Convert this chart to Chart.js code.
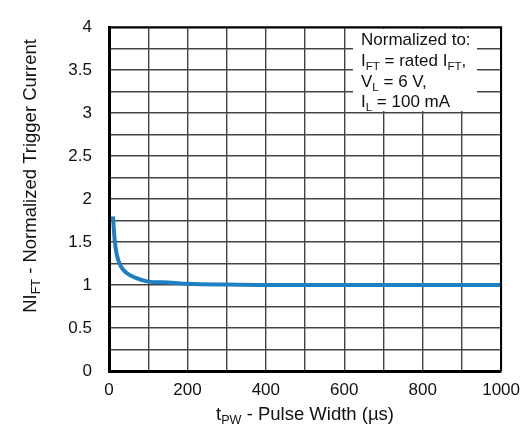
<!DOCTYPE html>
<html lang="en">
<head>
    <meta charset="UTF-8">
    <title>Normalized Trigger Current vs Pulse Width</title>
    <script src="https://cdn.jsdelivr.net/npm/chart.js"></script>
    <style>
        body { margin: 0; background: #fff; }
        #wrap { width: 529px; height: 437px; }
    </style>
</head>
<body>
    <div id="wrap"><canvas id="myChart"></canvas></div>
    <script>
        // data
        const pulseWidth = [10, 15, 20, 30, 45, 70, 100, 150, 200, 300, 400, 600, 800, 1000];
        const trigCurrent = [1.8, 1.5, 1.35, 1.22, 1.14, 1.08, 1.04, 1.03, 1.015, 1.005, 1.0, 1.0, 1.0, 1.0];
        const yTicks = [0, 0.5, 1, 1.5, 2, 2.5, 3, 3.5, 4];
        const xTicks = [0, 200, 400, 600, 800, 1000];

        const FONT = '"Liberation Sans", Arial, sans-serif';

        // draw text made of [text, isSub] parts
        function richWidth(ctx, parts, size) {
            let w = 0;
            parts.forEach(p => {
                ctx.font = (p[1] ? size * 0.68 : size) + 'px ' + FONT;
                w += ctx.measureText(p[0]).width;
            });
            return w;
        }
        function drawRich(ctx, parts, x, y, size) {
            parts.forEach(p => {
                ctx.font = (p[1] ? size * 0.68 : size) + 'px ' + FONT;
                ctx.fillText(p[0], x, p[1] ? y + size * 0.22 : y);
                x += ctx.measureText(p[0]).width;
            });
        }

        const extras = {
            id: 'extras',
            afterDraw(chart) {
                const ctx = chart.ctx;
                const a = chart.chartArea;
                ctx.save();
                // frame top/right
                ctx.strokeStyle = '#000';
                ctx.lineWidth = 2;
                ctx.beginPath();
                ctx.moveTo(a.left, a.top);
                ctx.lineTo(a.right, a.top);
                ctx.lineTo(a.right, a.bottom);
                ctx.stroke();

                // note box
                ctx.fillStyle = '#fff';
                ctx.fillRect(353, 29, 124, 82);
                ctx.fillStyle = '#111';
                ctx.textBaseline = 'alphabetic';
                ctx.textAlign = 'left';
                const s = 17;
                drawRich(ctx, [['Normalized to:', 0]], 361, 45, s);
                drawRich(ctx, [['I', 0], ['FT', 1], [' = rated I', 0], ['FT', 1], [',', 0]], 361, 66, s);
                drawRich(ctx, [['V', 0], ['L', 1], [' = 6 V,', 0]], 361, 87, s);
                drawRich(ctx, [['I', 0], ['L', 1], [' = 100 mA', 0]], 361, 107, s);

                // axis titles
                const ts = 18.5;
                const xt = [['t', 0], ['PW', 1], [' - Pulse Width (\u00b5s)', 0]];
                const xw = richWidth(ctx, xt, ts);
                drawRich(ctx, xt, (a.left + a.right) / 2 - xw / 2, 420, ts);

                const yt = [['NI', 0], ['FT', 1], [' - Normalized Trigger Current', 0]];
                const yw = richWidth(ctx, yt, ts);
                ctx.translate(36, 176);
                ctx.rotate(-Math.PI / 2);
                drawRich(ctx, yt, -yw / 2, 0, ts);
                ctx.restore();
            }
        };

        const ctx = document.getElementById('myChart').getContext('2d');
        let myChart = new Chart(ctx, {
            type: 'scatter',
            data: {
                datasets: [{
                    data: pulseWidth.map((x, i) => ({ x: x, y: trigCurrent[i] })),
                    showLine: true,
                    borderColor: '#1f7fc4',
                    borderWidth: 4,
                    pointRadius: 0,
                    cubicInterpolationMode: 'monotone'
                }]
            },
            options: {
                responsive: true,
                maintainAspectRatio: false,
                animation: false,
                layout: { padding: { top: 15, right: 26, left: 0, bottom: 0 } },
                plugins: { legend: { display: false }, tooltip: { enabled: false } },
                scales: {
                    x: {
                        type: 'linear',
                        min: 0, max: 1000,
                        afterFit: s => { s.height = 66; },
                        grid: { color: '#444', lineWidth: 1.4, drawTicks: false },
                        border: { color: '#000', width: 3 },
                        ticks: {
                            stepSize: 100,
                            autoSkip: false,
                            maxRotation: 0,
                            padding: 9,
                            color: '#111',
                            font: { family: FONT, size: 17 },
                            callback: v => xTicks.includes(v) ? String(v) : ''
                        }
                    },
                    y: {
                        min: 0, max: 4,
                        afterFit: s => { s.width = 109; },
                        grid: { color: '#444', lineWidth: 1.4, drawTicks: false },
                        border: { color: '#000', width: 3 },
                        ticks: {
                            stepSize: 0.25,
                            autoSkip: false,
                            padding: 17,
                            color: '#111',
                            font: { family: FONT, size: 17 },
                            callback: v => yTicks.includes(v) ? String(v) : ''
                        }
                    }
                }
            },
            plugins: [extras]
        });
    </script>
</body>
</html>
